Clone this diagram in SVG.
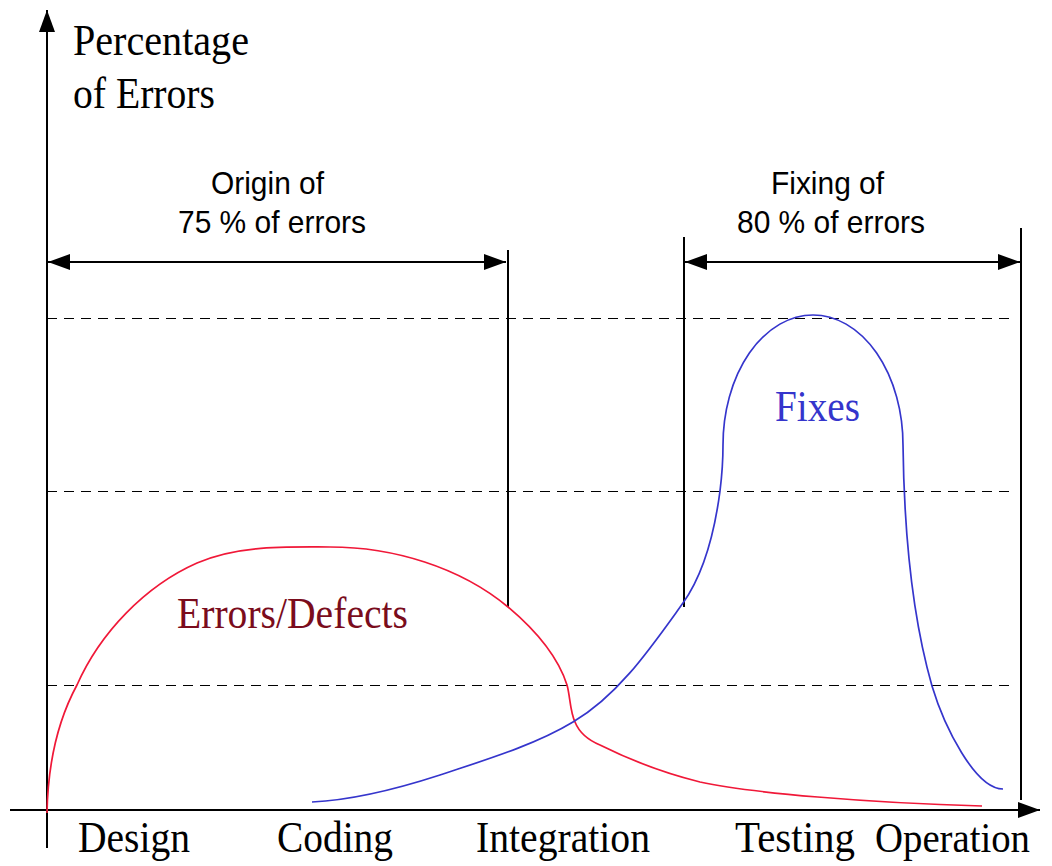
<svg xmlns="http://www.w3.org/2000/svg" width="1052" height="866" viewBox="0 0 1052 866">
<style>
.ax{stroke:#000;stroke-width:2;fill:none}
.dash{stroke:#000;stroke-width:1;stroke-dasharray:10 7;fill:none}
.red{stroke:#f01838;stroke-width:1.7;fill:none}
.blue{stroke:#3535cc;stroke-width:1.7;fill:none}
.serif{font-family:"Liberation Serif","Times New Roman",serif;fill:#000}
.sans{font-family:"Liberation Sans",Arial,sans-serif;font-size:32px;fill:#000}
</style>
<defs>
<marker id="arr" viewBox="0 0 22 16" refX="22" refY="8" markerWidth="22" markerHeight="16" markerUnits="userSpaceOnUse" orient="auto-start-reverse">
<path d="M0,0 L22,8 L0,16 z" fill="#000"/>
</marker>
</defs>
<rect width="1052" height="866" fill="#fff"/>
<g id="grid">
<line class="dash" x1="47" y1="318.5" x2="1014" y2="318.5"/>
<line class="dash" x1="47" y1="491.5" x2="1014" y2="491.5"/>
<line class="dash" x1="47" y1="685.5" x2="1014" y2="685.5"/>
</g>
<g id="axes">
<line class="ax" x1="47" y1="848" x2="47" y2="10" marker-end="url(#arr)"/>
<line class="ax" x1="10" y1="810" x2="1040" y2="810" marker-end="url(#arr)"/>
<text class="serif" x="73" y="55" font-size="44" textLength="176" lengthAdjust="spacingAndGlyphs">Percentage</text>
<text class="serif" x="73" y="108" font-size="44" textLength="142" lengthAdjust="spacingAndGlyphs">of Errors</text>
</g>
<g id="phases" class="serif" font-size="45">
<text x="78" y="852" textLength="112" lengthAdjust="spacingAndGlyphs">Design</text>
<text x="277" y="852" textLength="116" lengthAdjust="spacingAndGlyphs">Coding</text>
<text x="476" y="852" textLength="174" lengthAdjust="spacingAndGlyphs">Integration</text>
<text x="735" y="852" textLength="120" lengthAdjust="spacingAndGlyphs">Testing</text>
<text x="875" y="852" font-size="43" textLength="155" lengthAdjust="spacingAndGlyphs">Operation</text>
</g>
<g id="connectors">
<line class="ax" x1="508" y1="250" x2="508" y2="607"/>
<line class="ax" x1="684" y1="237" x2="684" y2="607"/>
<line class="ax" x1="1021" y1="228" x2="1021" y2="800"/>
<line class="ax" x1="48" y1="262" x2="506" y2="262" marker-start="url(#arr)" marker-end="url(#arr)"/>
<line class="ax" x1="685" y1="262" x2="1020" y2="262" marker-start="url(#arr)" marker-end="url(#arr)"/>
</g>
<g id="origin-label" class="sans">
<text x="211" y="194" textLength="113" lengthAdjust="spacingAndGlyphs">Origin of</text>
<text x="178" y="233" textLength="188" lengthAdjust="spacingAndGlyphs">75 % of errors</text>
</g>
<g id="fixing-label" class="sans">
<text x="771" y="194" textLength="113" lengthAdjust="spacingAndGlyphs">Fixing of</text>
<text x="737" y="233" textLength="188" lengthAdjust="spacingAndGlyphs">80 % of errors</text>
</g>
<g id="errors-curve">
<path class="red" d="M47,813 C48,760 58,720 77,685 C100,633 145,586 197,563 C238,545 285,547 330,547 C393,547 460,567 508,607 C533,628 557,654 567,685 C570,695 570,712 575,722 C579,732 588,740 600,745 C630,760 660,772 700,782 C750,793 870,803 982,806"/>
<text class="serif" x="177" y="628" font-size="45" style="fill:#7a0c1c" textLength="231" lengthAdjust="spacingAndGlyphs">Errors/Defects</text>
</g>
<g id="fixes-curve">
<path class="blue" d="M312,802 C355,800 400,788 440,775 C485,760 535,745 573,722 C619,695 652,646 683,603 C705,572 715,529 720,491 C722,475 723,460 723,445 A90,130 0 0 1 903,445 C904,525 910,609 932,686 C944,726 975,789 1003,789"/>
<text class="serif" x="775" y="421" font-size="45" style="fill:#3535cc" textLength="85" lengthAdjust="spacingAndGlyphs">Fixes</text>
</g>
</svg>
